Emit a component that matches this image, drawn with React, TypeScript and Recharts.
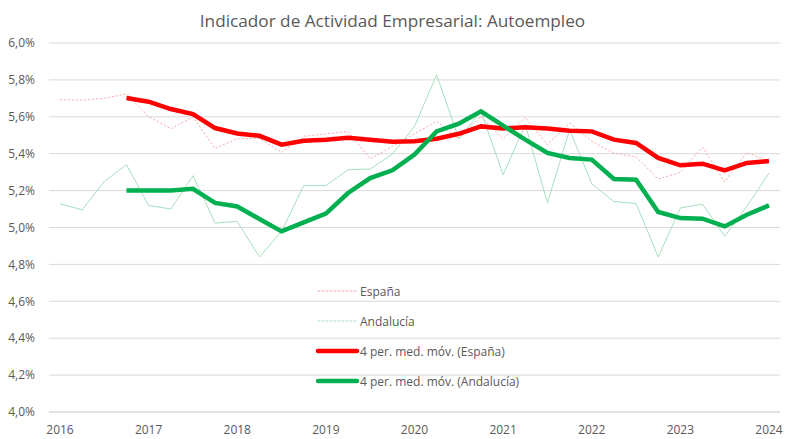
import { LineChart, Line, XAxis, YAxis, CartesianGrid } from "recharts";

const quarters = [
  "2016T1", "2016T2", "2016T3", "2016T4",
  "2017T1", "2017T2", "2017T3", "2017T4",
  "2018T1", "2018T2", "2018T3", "2018T4",
  "2019T1", "2019T2", "2019T3", "2019T4",
  "2020T1", "2020T2", "2020T3", "2020T4",
  "2021T1", "2021T2", "2021T3", "2021T4",
  "2022T1", "2022T2", "2022T3", "2022T4",
  "2023T1", "2023T2", "2023T3", "2023T4",
  "2024T1",
];

const espana = [
  5.693, 5.691, 5.7, 5.724, 5.602, 5.535, 5.599, 5.429, 5.481, 5.483, 5.407,
  5.494, 5.507, 5.521, 5.371, 5.44, 5.507, 5.575, 5.48, 5.602, 5.48, 5.597,
  5.449, 5.566, 5.467, 5.404, 5.382, 5.263, 5.299, 5.436, 5.247, 5.407, 5.358,
];

const andalucia = [
  5.129, 5.096, 5.25, 5.34, 5.12, 5.1, 5.281, 5.024, 5.033, 4.84, 4.979,
  5.227, 5.227, 5.313, 5.317, 5.398, 5.548, 5.828, 5.48, 5.63, 5.286, 5.557,
  5.133, 5.53, 5.237, 5.141, 5.129, 4.84, 5.106, 5.127, 4.952, 5.114, 5.295,
];

// medias móviles de 4 periodos
const mmEspana = [
  null, null, null, 5.702, 5.682, 5.642, 5.615, 5.539, 5.51, 5.497, 5.449,
  5.47, 5.476, 5.487, 5.476, 5.465, 5.467, 5.481, 5.508, 5.548, 5.537, 5.543,
  5.537, 5.525, 5.521, 5.476, 5.458, 5.377, 5.337, 5.346, 5.31, 5.35, 5.36,
];

const mmAndalucia = [
  null, null, null, 5.201, 5.201, 5.201, 5.21, 5.133, 5.114, 5.046, 4.979,
  5.028, 5.075, 5.187, 5.268, 5.31, 5.395, 5.521, 5.563, 5.63, 5.552, 5.476,
  5.404, 5.377, 5.368, 5.263, 5.259, 5.084, 5.051, 5.048, 5.006, 5.069, 5.12,
];

const yTicks = [4, 4.2, 4.4, 4.6, 4.8, 5, 5.2, 5.4, 5.6, 5.8, 6];

const data = quarters.map((q, i) => ({
  q,
  espana: espana[i],
  andalucia: andalucia[i],
  mmEspana: mmEspana[i],
  mmAndalucia: mmAndalucia[i],
}));

const FONT = "'Open Sans', sans-serif";
const GREY = "#595959";

const legendItems = [
  { label: "España", color: "#f7a8a8", width: 1, dash: "2 2" },
  { label: "Andalucía", color: "#a9dfbe", width: 1, dash: "2 2" },
  { label: "4 per. med. móv. (España)", color: "#ff0000", width: 4.5, dash: undefined },
  { label: "4 per. med. móv. (Andalucía)", color: "#00b050", width: 4.5, dash: undefined },
];

const LegendBox = () => (
  <div
    style={{
      position: "absolute",
      left: 315,
      top: 276,
      fontFamily: FONT,
      fontSize: 12,
      color: GREY,
    }}
  >
    {legendItems.map((it) => (
      <div key={it.label} style={{ display: "flex", alignItems: "center", height: 30 }}>
        <svg width={45} height={10}>
          <line
            x1={3}
            x2={42}
            y1={5}
            y2={5}
            stroke={it.color}
            strokeWidth={it.width}
            strokeDasharray={it.dash}
            strokeLinecap="round"
          />
        </svg>
        <span>{it.label}</span>
      </div>
    ))}
  </div>
);

export default function App() {
  return (
    <div style={{ position: "relative", width: 785, height: 439, background: "#fff" }}>
      <style>{"body{margin:0}"}</style>
      <div
        style={{
          position: "absolute",
          top: 9,
          left: 0,
          width: 785,
          textAlign: "center",
          fontFamily: FONT,
          fontSize: 17.2,
          color: GREY,
        }}
      >
        Indicador de Actividad Empresarial: Autoempleo
      </div>
      <LineChart
        width={785}
        height={439}
        data={data}
        margin={{ top: 43, right: 5, bottom: 0, left: 0 }}
      >
        <CartesianGrid vertical={false} stroke="#d9d9d9" />
        <XAxis
          dataKey="q"
          interval={3}
          padding={{ left: 11, right: 11 }}
          tickFormatter={(v: string) => v.slice(0, 4)}
          tickLine={false}
          axisLine={{ stroke: "#d9d9d9" }}
          tick={{ fill: GREY, fontSize: 12, fontFamily: FONT }}
          height={27}
          tickMargin={7}
        />
        <YAxis
          domain={[4, 6]}
          ticks={yTicks}
          width={49}
          tickLine={false}
          axisLine={false}
          tickFormatter={(v: number) => v.toFixed(1).replace(".", ",") + "%"}
          tick={{ fill: GREY, fontSize: 12, fontFamily: FONT }}
          tickMargin={8}
        />
        <Line
          dataKey="espana"
          stroke="#f7a8a8"
          strokeWidth={1}
          strokeDasharray="2 2"
          dot={false}
          isAnimationActive={false}
        />
        <Line
          dataKey="andalucia"
          stroke="#a9dfbe"
          strokeWidth={1}
          dot={false}
          isAnimationActive={false}
        />
        <Line
          dataKey="mmEspana"
          stroke="#ff0000"
          strokeWidth={4.5}
          dot={false}
          isAnimationActive={false}
        />
        <Line
          dataKey="mmAndalucia"
          stroke="#00b050"
          strokeWidth={4.5}
          dot={false}
          isAnimationActive={false}
        />
      </LineChart>
      <LegendBox />
    </div>
  );
}
